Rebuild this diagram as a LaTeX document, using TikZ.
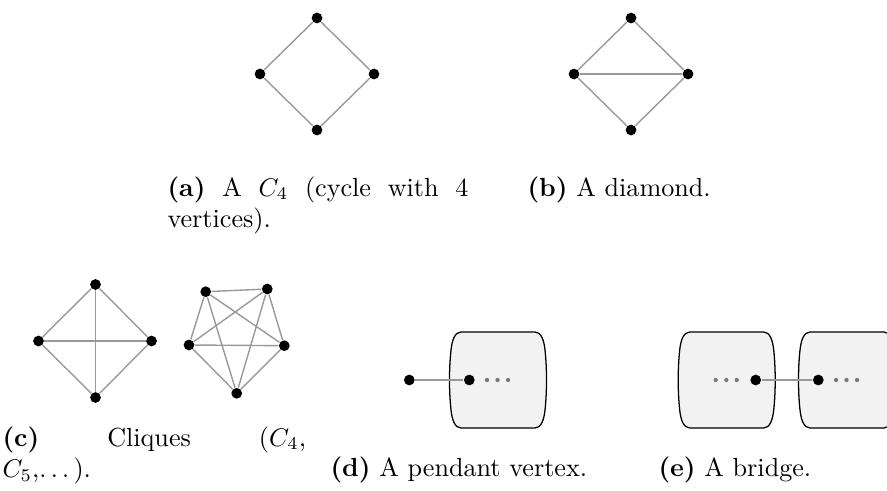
\documentclass[tikz,border=0pt]{standalone}
\usepackage{amsmath,amssymb}
\usepackage{xcolor}
\usepackage{tikz}
\usetikzlibrary{calc,positioning}
\definecolor{edgec}{HTML}{999999}
\definecolor{dotc}{HTML}{7A7A7A}
\definecolor{blobbg}{HTML}{F2F2F2}
\tikzset{
  vt/.style={circle,fill=black,inner sep=0pt,minimum size=4.2pt},
  ed/.style={edgec,line width=0.55pt},
  dt/.style={circle,fill=dotc,inner sep=0pt,minimum size=1.7pt},
  capt/.style={anchor=base west,inner sep=0pt,text width=118pt,align=justify,
    font=\fontsize{10.25pt}{12.3pt}\selectfont},
  blob/.pic={
    \draw[black,line width=0.5pt,fill=blobbg] (-37,-48) -- (37,-48)
      .. controls (43,-48) and (46,-40) .. (47,-30)
      .. controls (49,-12) and (49,12) .. (47,30)
      .. controls (46,40) and (43,48) .. (37,48) -- (-37,48)
      .. controls (-43,48) and (-46,40) .. (-47,30)
      .. controls (-49,12) and (-49,-12) .. (-47,-30)
      .. controls (-46,-40) and (-43,-48) .. (-37,-48) -- cycle;
  }
}

\begin{document}
\begin{tikzpicture}[x=0.392pt,y=-0.392pt]
\useasboundingbox (0,0) rectangle (887,490);
% (a) C4
\node[vt] (a1) at (317,18) {};
\node[vt] (a2) at (260,74) {};
\node[vt] (a3) at (374,74) {};
\node[vt] (a4) at (317,130) {};
\foreach \u/\v in {a1/a2,a1/a3,a2/a4,a3/a4}{\draw[ed] (\u) -- (\v);}
\node[capt] (capa) at (167,196) {\textbf{(a)} A $C_4$ (cycle with 4\linebreak vertices).};
% (b) diamond
\node[vt] (b1) at (631,18) {};
\node[vt] (b2) at (574,74) {};
\node[vt] (b3) at (688,74) {};
\node[vt] (b4) at (631,130) {};
\foreach \u/\v in {b1/b2,b1/b3,b2/b4,b3/b4,b2/b3}{\draw[ed] (\u) -- (\v);}
\node[capt] (capb) at (527,196) {\textbf{(b)} A diamond.};
% (c) cliques
\node[vt] (k1) at (95.5,284.5) {};
\node[vt] (k2) at (38.5,341) {};
\node[vt] (k3) at (151.5,341) {};
\node[vt] (k4) at (95.5,397.5) {};
\foreach \u/\v in {k1/k2,k1/k3,k1/k4,k2/k3,k2/k4,k3/k4}{\draw[ed] (\u) -- (\v);}
\node[vt] (f1) at (205.7,291.7) {};
\node[vt] (f2) at (267.3,289) {};
\node[vt] (f3) at (189,345) {};
\node[vt] (f4) at (284.3,345.7) {};
\node[vt] (f5) at (236.7,393.3) {};
\foreach \u/\v in {f1/f2,f1/f3,f1/f4,f1/f5,f2/f3,f2/f4,f2/f5,f3/f4,f3/f5,f4/f5}{\draw[ed] (\u) -- (\v);}
\node[capt,text width=119pt] (capc) at (2,446) {\textbf{(c)} Cliques ($C_4$,\linebreak $C_5$,$\ldots$\,).};
% (d) pendant vertex
\pic at (498,380) {blob};
\node[vt] (p1) at (409.3,380) {};
\node[vt] (p2) at (469.3,380) {};
\draw[ed] (p1) -- (p2);
\foreach \x in {487,497.5,508}{\node[dt] at (\x,380) {};}
\node[capt] (capd) at (330,476) {\textbf{(d)} A pendant vertex.};
% (e) bridge
\pic at (726.7,380) {blob};
\pic at (847,380) {blob};
\node[vt] (g1) at (755.7,380) {};
\node[vt] (g2) at (818.3,380) {};
\draw[ed] (g1) -- (g2);
\foreach \x in {715.7,726.3,736.7,836,846.5,857}{\node[dt] at (\x,380) {};}
\node[capt] (cape) at (658,476) {\textbf{(e)} A bridge.};
\end{tikzpicture}
\end{document}
